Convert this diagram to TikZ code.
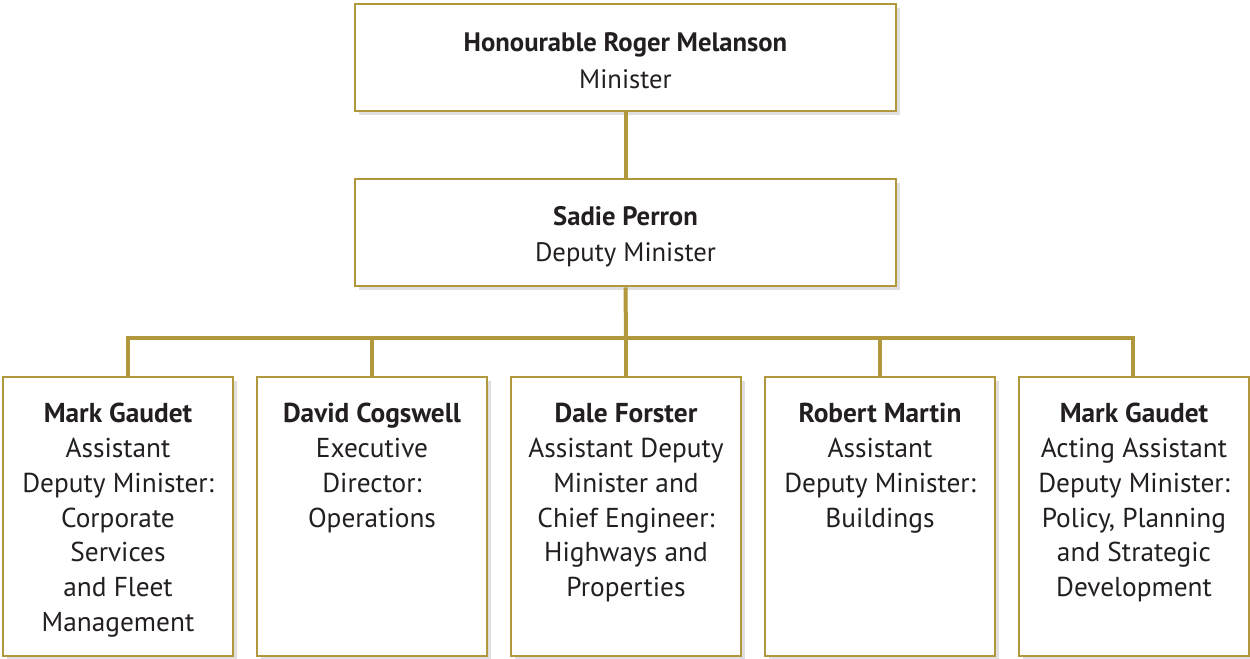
\documentclass[tikz,border=0pt]{standalone}
\usepackage{fontspec}
\setmainfont{PT Sans}
\usetikzlibrary{shadows}
\definecolor{gold}{RGB}{178,152,60}
\definecolor{ink}{RGB}{35,31,32}
\begin{document}
\begin{tikzpicture}[x=0.75pt,y=-0.75pt,
  box/.style={draw=gold,line width=2.2pt,fill=white,inner sep=0pt,
    drop shadow={opacity=0.25,shadow xshift=3pt,shadow yshift=-3pt}},
  txt/.style={text=ink,align=center,inner sep=0pt,anchor=north,
    font=\fontsize{20.5}{26.1}\selectfont},
  link/.style={draw=gold,line width=3pt}]
\useasboundingbox (0,0) rectangle (1250,658);
% top boxes
\node[box,minimum width=541*0.75pt,minimum height=107*0.75pt] (min) at (625.5,57.5) {};
\node[txt,font=\fontsize{20}{27.4}\selectfont] (mint) at (625.5,32.5) {\textbf{Honourable Roger Melanson}\\Minister};
\node[box,minimum width=541*0.75pt,minimum height=107*0.75pt] (dep) at (625.5,232.5) {};
\node[txt,font=\fontsize{20}{27.4}\selectfont] (dept) at (625.5,206) {\textbf{Sadie Perron}\\Deputy Minister};
% bottom boxes
\foreach \i/\x in {1/118,2/372,3/626,4/880,5/1134}{
  \node[box,minimum width=230*0.75pt,minimum height=279*0.75pt] (b\i) at (\x,516.5) {};
}
\node[txt] (t1) at (118,403) {\textbf{Mark Gaudet}\\Assistant\\Deputy Minister:\\Corporate\\Services\\and Fleet\\Management};
\node[txt] (t2) at (372,403) {\textbf{David Cogswell}\\Executive\\Director:\\Operations};
\node[txt] (t3) at (626,403) {\textbf{Dale Forster}\\Assistant Deputy\\Minister and\\Chief Engineer:\\Highways and\\Properties};
\node[txt] (t4) at (880,403) {\textbf{Robert Martin}\\Assistant\\Deputy Minister:\\Buildings};
\node[txt] (t5) at (1134,403) {\textbf{Mark Gaudet}\\Acting Assistant\\Deputy Minister:\\Policy, Planning\\and Strategic\\Development};
% connectors
\coordinate (j1) at (128,338);
\coordinate (j2) at (372,338);
\coordinate (j3) at (626,338);
\coordinate (j4) at (880,338);
\coordinate (j5) at (1133,338);
\draw[link] (min.south) -- (dep.north);
\draw[link] (dep.south) -- (j3);
\draw[link] ([xshift=-1.5pt]j1) -- ([xshift=1.5pt]j5);
\draw[link] (j1) -- (j1 |- b1.north);
\draw[link] (j2) -- (j2 |- b2.north);
\draw[link] (j3) -- (j3 |- b3.north);
\draw[link] (j4) -- (j4 |- b4.north);
\draw[link] (j5) -- (j5 |- b5.north);
\end{tikzpicture}
\end{document}
